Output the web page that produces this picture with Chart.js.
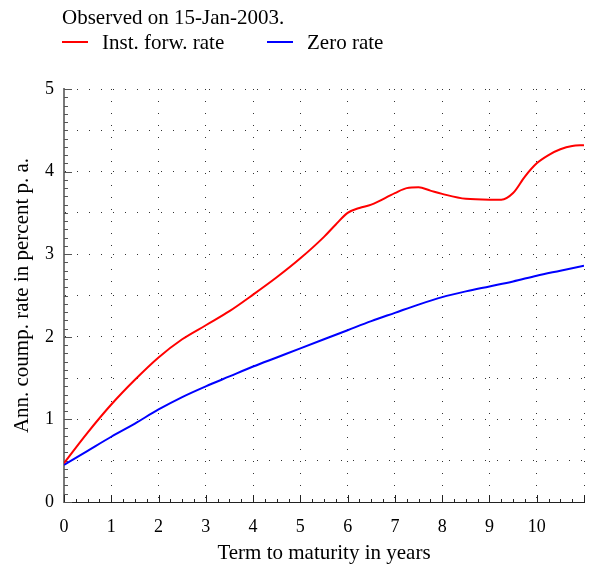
<!DOCTYPE html>
<html>
<head>
<meta charset="utf-8">
<script src="https://cdn.jsdelivr.net/npm/chart.js@4/dist/chart.umd.min.js"></script>
<style>
  html, body { margin: 0; padding: 0; background: #fff; }
  canvas { display: block; }
</style>
</head>
<body>
<canvas id="rates" width="589" height="570"></canvas>
<script>
// Term structure, observed 15-Jan-2003
const observedText = 'Observed on 15-Jan-2003.';

const forwardTerms = [0, 0.5, 1, 1.5, 2, 2.5, 3, 3.5, 4, 4.5, 5, 5.5, 5.75, 6, 6.25, 6.5, 7, 7.25, 7.5, 7.75, 8, 8.5, 9, 9.25, 9.5, 9.75, 10, 10.25, 10.5, 10.75, 11];
const forwardRates = [0.47, 0.84, 1.18, 1.48, 1.75, 1.97, 2.14, 2.31, 2.51, 2.72, 2.95, 3.21, 3.36, 3.50, 3.56, 3.60, 3.74, 3.80, 3.81, 3.77, 3.73, 3.67, 3.66, 3.66, 3.74, 3.94, 4.10, 4.20, 4.27, 4.31, 4.32];

const zeroTerms = [0, 0.5, 1, 1.5, 2, 2.5, 3, 3.5, 4, 4.5, 5, 5.5, 6, 6.5, 7, 7.5, 8, 8.5, 9, 9.5, 10, 10.5, 11];
const zeroRates = [0.45, 0.62, 0.79, 0.95, 1.12, 1.27, 1.40, 1.52, 1.64, 1.75, 1.86, 1.97, 2.08, 2.19, 2.29, 2.39, 2.48, 2.55, 2.61, 2.67, 2.74, 2.80, 2.86];

const seriesNames = ['Inst. forw. rate', 'Zero rate'];
const seriesColors = ['#ff0000', '#0000ff'];

const FONT = "'Liberation Serif', 'Times New Roman', serif";

function toPoints(xs, ys) {
    return xs.map((x, i) => ({ x: x, y: ys[i] }));
}

// header line + legend above the plot
const headerPlugin = {
    id: 'header',
    afterDraw(chart) {
        const ctx = chart.ctx;
        ctx.save();
        ctx.font = '21px ' + FONT;
        ctx.fillStyle = '#000';
        ctx.textBaseline = 'middle';
        ctx.textAlign = 'left';
        ctx.fillText(observedText, 62, 18);

        const items = [
            { x: 62, label: seriesNames[0], color: seriesColors[0] },
            { x: 267, label: seriesNames[1], color: seriesColors[1] }
        ];
        items.forEach(it => {
            ctx.strokeStyle = it.color;
            ctx.lineWidth = 2;
            ctx.beginPath();
            ctx.moveTo(it.x, 42);
            ctx.lineTo(it.x + 26, 42);
            ctx.stroke();
            ctx.fillText(it.label, it.x + 40, 43);
        });
        ctx.restore();
    }
};

// inward major/minor tick marks on both axes
const tickMarksPlugin = {
    id: 'tickMarks',
    beforeDatasetsDraw(chart) {
        const ctx = chart.ctx;
        const xs = chart.scales.x;
        const ys = chart.scales.y;
        const left = chart.chartArea.left;
        const bottom = chart.chartArea.bottom;
        ctx.save();
        ctx.lineWidth = 1;

        ctx.strokeStyle = '#555';
        for (let i = 0; i <= 50; i++) {
            const py = Math.round(ys.getPixelForValue(i / 10)) + 0.5;
            const len = i % 10 === 0 ? 8 : 4;
            ctx.beginPath();
            ctx.moveTo(left, py);
            ctx.lineTo(left + len, py);
            ctx.stroke();
        }

        ctx.strokeStyle = '#222';
        for (let i = 0; i <= 44; i++) {
            const px = Math.round(xs.getPixelForValue(i / 4)) + 0.5;
            const len = i % 4 === 0 ? 7 : 3;
            ctx.beginPath();
            ctx.moveTo(px, bottom);
            ctx.lineTo(px, bottom - len);
            ctx.stroke();
        }
        ctx.restore();
    }
};

const ctx = document.getElementById('rates');

new Chart(ctx, {
    type: 'line',
    data: {
        datasets: [
            {
                label: seriesNames[0],
                data: toPoints(forwardTerms, forwardRates),
                borderColor: seriesColors[0],
                borderWidth: 2,
                pointRadius: 0,
                cubicInterpolationMode: 'monotone',
                fill: false
            },
            {
                label: seriesNames[1],
                data: toPoints(zeroTerms, zeroRates),
                borderColor: seriesColors[1],
                borderWidth: 2,
                pointRadius: 0,
                cubicInterpolationMode: 'monotone',
                fill: false
            }
        ]
    },
    options: {
        responsive: false,
        animation: false,
        layout: {
            padding: { top: 89, right: 5, left: 0, bottom: 0 }
        },
        plugins: {
            legend: { display: false },
            title: { display: false },
            tooltip: { enabled: false }
        },
        scales: {
            x: {
                type: 'linear',
                min: 0,
                max: 11,
                afterFit: (scale) => {
                    scale.height = 68;
                    scale.paddingLeft = 0;
                    scale.paddingRight = 0;
                },
                ticks: {
                    stepSize: 1,
                    autoSkip: false,
                    maxRotation: 0,
                    padding: 14,
                    color: '#000',
                    font: { family: FONT, size: 18 },
                    callback: (v) => (v === 11 ? '' : v)
                },
                grid: {
                    color: '#333',
                    lineWidth: 1,
                    drawTicks: false
                },
                border: {
                    display: true,
                    color: '#222',
                    width: 1,
                    dash: [1, 11]
                },
                title: {
                    display: true,
                    text: 'Term to maturity in years',
                    color: '#000',
                    font: { family: FONT, size: 21 },
                    padding: { top: 0, bottom: 4 }
                }
            },
            y: {
                min: 0,
                max: 5,
                afterFit: (scale) => { scale.width = 64; },
                ticks: {
                    stepSize: 0.5,
                    autoSkip: false,
                    padding: 10,
                    color: '#000',
                    font: { family: FONT, size: 18 },
                    callback: (v) => (Number.isInteger(v) ? v : '')
                },
                grid: {
                    color: '#333',
                    lineWidth: 1,
                    drawTicks: false
                },
                border: {
                    display: true,
                    color: '#7a7a7a',
                    width: 2,
                    dash: [1, 11]
                },
                title: {
                    display: true,
                    text: 'Ann. coump. rate in percent p. a.',
                    color: '#000',
                    font: { family: FONT, size: 21 },
                    padding: { top: 10, bottom: 0 }
                }
            }
        }
    },
    plugins: [headerPlugin, tickMarksPlugin]
});
</script>
</body>
</html>
